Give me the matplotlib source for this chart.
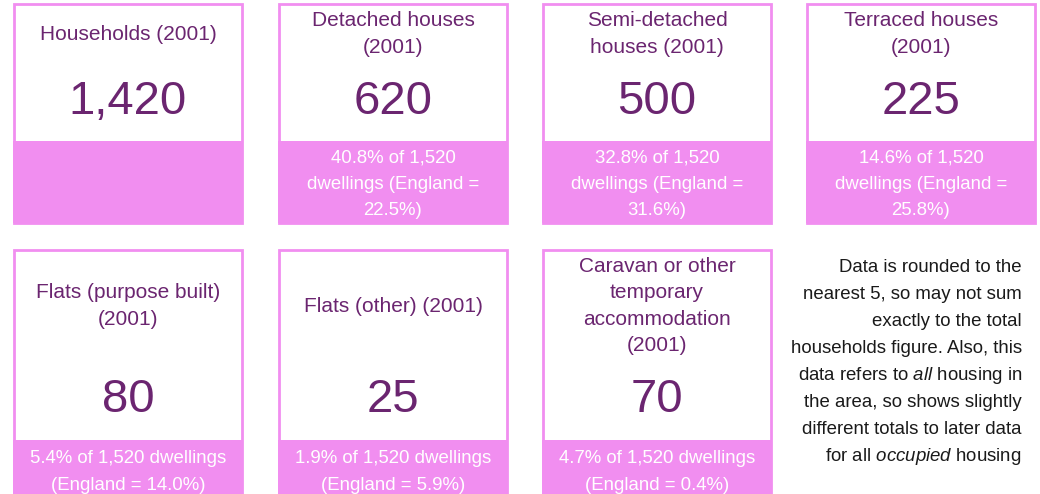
import textwrap
import matplotlib
matplotlib.use("Agg")
import matplotlib.pyplot as plt
from matplotlib.patches import Rectangle

plt.rcParams['font.family'] = ['Liberation Sans', 'DejaVu Sans']
plt.rcParams['mathtext.fontset'] = 'custom'
plt.rcParams['mathtext.rm'] = 'Liberation Sans'
plt.rcParams['mathtext.it'] = 'Liberation Sans:italic'

# data
titles = ["Households (2001)", "Detached houses\n(2001)", "Semi-detached\nhouses (2001)",
          "Terraced houses\n(2001)", "Flats (purpose built)\n(2001)", "Flats (other) (2001)",
          "Caravan or other\ntemporary\naccommodation\n(2001)"]
values = [1420, 620, 500, 225, 80, 25, 70]
share_pct = [None, 40.8, 32.8, 14.6, 5.4, 1.9, 4.7]
england_pct = [None, 22.5, 31.6, 25.8, 14.0, 5.9, 0.4]
total_dwellings = 1520
note_lines = ["Data is rounded to the", "nearest 5, so may not sum", "exactly to the total",
              "households figure. Also, this", r"data refers to $\mathit{all}$ housing in",
              "the area, so shows slightly", "different totals to later data",
              r"for all $\mathit{occupied}$ housing"]

PINK = '#f18ef0'
PURPLE = '#6b2570'

fig = plt.figure(figsize=(10.4, 4.94), dpi=100)
ax = fig.add_axes([0, 0, 1, 1])
ax.set_xlim(0, 1040)
ax.set_ylim(494, 0)
ax.axis('off')

card_w = 228
lefts = [14, 279, 543, 807]
# (top, pink start, bottom, heading centre, value centre, footer centre) per row
rows = [(4, 141, 223, 34, 102, 184), (250, 440, 496, 306, 400, 472)]
wrap_w = [20, 24]

for i, (title, val) in enumerate(zip(titles, values)):
    r, c = divmod(i, 4)
    top, pink_y, bot, head_y, val_y, foot_y = rows[r]
    x0 = lefts[c]
    cx = x0 + card_w / 2
    ax.add_patch(Rectangle((x0, top), card_w, bot - top, facecolor='white',
                           edgecolor=PINK, lw=2))
    ax.add_patch(Rectangle((x0 - 1, pink_y), card_w + 2, bot - pink_y, facecolor=PINK,
                           edgecolor='none'))
    ax.text(cx, head_y, title, ha='center', va='center', fontsize=15,
            color=PURPLE, linespacing=1.5)
    ax.text(cx, val_y, f"{val:,}", ha='center', va='center', fontsize=34, color=PURPLE)
    if share_pct[i] is not None:
        foot = (f"{share_pct[i]:.1f}% of {total_dwellings:,} dwellings "
                f"(England = {england_pct[i]:.1f}%)")
        foot = textwrap.fill(foot, wrap_w[r])
        ax.text(cx, foot_y, foot, ha='center', va='center',
                fontsize=13.4, color='white', linespacing=1.7)

for k, line in enumerate(note_lines):
    ax.text(1022, 267 + 27 * k, line, ha='right', va='center', fontsize=13.4,
            color='#1a1a1a')

fig.savefig('out.png', dpi=100)
